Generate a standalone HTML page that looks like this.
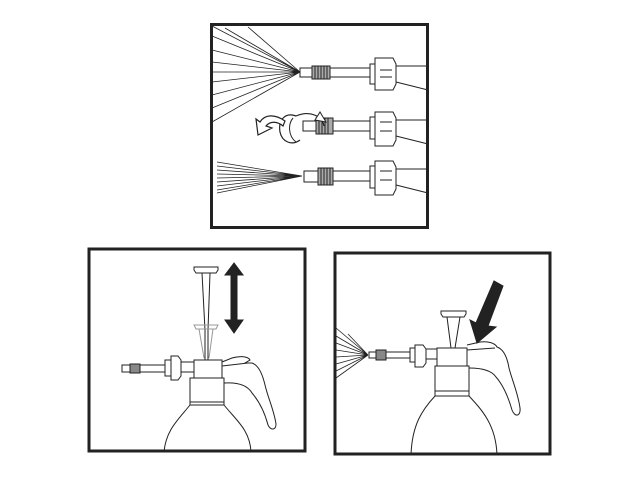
<!DOCTYPE html>
<html><head><style>body{margin:0;background:#fff}svg{display:block}</style></head><body>
<svg width="640" height="480" viewBox="0 0 640 480" xmlns="http://www.w3.org/2000/svg" fill="none" stroke="#222" stroke-width="1">
<!-- frames -->
<rect x="211.5" y="24.5" width="216" height="203" stroke-width="3"/>
<rect x="89" y="249" width="216" height="202" stroke-width="3"/>
<rect x="335" y="253" width="215" height="201" stroke-width="3"/>

<!-- TOP ROW 1 -->
<g stroke-width="0.8">
<path d="M300 72 L212 26 M300 72 L212 36 M300 72 L212 50 M300 72 L212 62 M300 72 L212 72 M300 72 L212 82 M300 72 L212 95 M300 72 L212 108 M300 72 L212 122 M300 72 L225 28 M300 72 L248 27"/>
</g>
<rect x="300" y="68" width="12" height="9"/>
<rect x="312" y="66" width="18" height="13" fill="#aaa"/>
<path d="M315 66v13M318 66v13M321 66v13M324 66v13M327 66v13" stroke="#222"/>
<rect x="330" y="68" width="40" height="9"/>
<rect x="370" y="64" width="5" height="20"/>
<path d="M375 58h18l3 6v20l-3 6h-18z"/>
<path d="M380 70h12M380 77h12"/>
<path d="M396 66h32M396 82l32 8"/>

<!-- TOP ROW 2 -->
<rect x="303" y="121" width="13" height="10"/>
<rect x="316" y="118" width="17" height="16" fill="#aaa"/>
<path d="M319 118v16M322 118v16M325 118v16M328 118v16"/>
<rect x="333" y="121" width="37" height="10"/>
<rect x="370" y="117" width="5" height="22"/>
<path d="M375 112h18l3 6v22l-3 6h-18z"/>
<path d="M380 122h12M380 131h12"/>
<path d="M396 120h32M396 136l32 8"/>
<!-- rotation arrow -->
<path d="M296 116 C 285 112, 278 120, 280 132 C 282 142, 292 146, 300 140 M296 116 C 310 110, 322 116, 324 126" stroke-width="1.2"/>
<path d="M293 118 C 288 124, 288 136, 296 142" />
<path d="M315 120 l5 -8 l6 10 z" fill="#fff"/>
<path d="M285 121 C 275 114, 265 114, 260 122 L256 119 L258 135 L272 128 L266 126 C 270 121, 277 121, 283 126 Z" fill="#fff" stroke-width="1.2"/>

<!-- TOP ROW 3 -->
<g stroke-width="0.8">
<path d="M302 176 L217 162 M302 176 L217 166 M302 176 L217 170 M302 176 L217 174 M302 176 L217 178 M302 176 L217 182 M302 176 L217 186 M302 176 L217 190 M302 176 L217 193"/>
</g>
<rect x="304" y="171" width="14" height="11"/>
<rect x="318" y="168" width="15" height="17" fill="#aaa"/>
<path d="M321 168v17M324 168v17M327 168v17M330 168v17"/>
<rect x="333" y="171" width="37" height="10"/>
<rect x="370" y="166" width="5" height="22"/>
<path d="M375 161h18l3 6v22l-3 6h-18z"/>
<path d="M380 171h12M380 180h12"/>
<path d="M396 169h32M396 185l32 8"/>

<!-- BOTTOM LEFT -->
<path d="M194 267h24v3l-2 3h-20l-2 -3z"/>
<path d="M202 273 L205 330 M210 273 L208 330 M205 330 V360 M208 330 V360"/>
<path d="M194 325h24l-2 4h-20z" stroke="#999"/>
<path d="M199 329 L204 358 M213 329 L209 358" stroke="#999"/>
<path d="M234 263 l-9 12h6v45h-6l9 13 9-13h-6v-45h6z" fill="#222"/>
<rect x="194" y="360" width="28" height="18"/>
<path d="M190 378h34v27h-34z M190 402h34"/>
<path d="M190 405 C 178 420, 166 430, 164 452 M224 405 C 236 420, 250 430, 251 452"/>
<path d="M222 362 L232 358 C 240 356, 248 356, 250 360 L245 363 L252 363 C 258 365, 262 372, 265 385 C 268 398, 274 410, 276 424 C 276 430, 271 431, 268 425 C 264 410, 258 400, 252 393 C 248 386, 240 382, 224 383"/>
<path d="M222 366 L248 363"/>
<rect x="122" y="365" width="8" height="7"/>
<rect x="130" y="364" width="10" height="9" fill="#888"/>
<rect x="140" y="365" width="25" height="7"/>
<path d="M165 360h6v16h-6z M171 356h7l3 4v16l-3 4h-7z M181 362h13v10h-13"/>

<!-- BOTTOM RIGHT -->
<path d="M441 311h25v3l-2 3h-21l-2 -3z"/>
<path d="M447 317 L451 348 M460 317 L455 348"/>
<path d="M494 281 L476 323 L470 320 L477 343 L496 327 L488 326 L503 286 Z" fill="#222"/>
<rect x="437" y="348" width="30" height="18"/>
<path d="M435 366h34v30h-34z M435 391h34"/>
<path d="M435 396 C 422 410, 412 425, 411 455 M469 396 C 482 410, 496 425, 497 455"/>
<path d="M467 345 L480 342 C 488 341, 495 343, 497 347 C 503 349, 507 356, 509 368 C 512 380, 518 393, 520 408 C 521 416, 515 418, 512 410 C 508 396, 503 385, 496 377 C 492 371, 482 368, 469 368"/>
<path d="M467 350 L495 348"/>
<g stroke-width="0.8">
<path d="M368 355 L336 328 M368 355 L336 336 M368 355 L336 343 M368 355 L336 350 M368 355 L336 357 M368 355 L336 364 M368 355 L336 371 M368 355 L336 378 M368 355 L348 334"/>
</g>
<rect x="369" y="352" width="7" height="6"/>
<rect x="376" y="350" width="10" height="10" fill="#888"/>
<rect x="386" y="352" width="24" height="6"/>
<path d="M410 348h5v14h-5z M415 345h8l3 4v14l-3 4h-8z M426 349h11v10h-11"/>
</svg>
</body></html>
